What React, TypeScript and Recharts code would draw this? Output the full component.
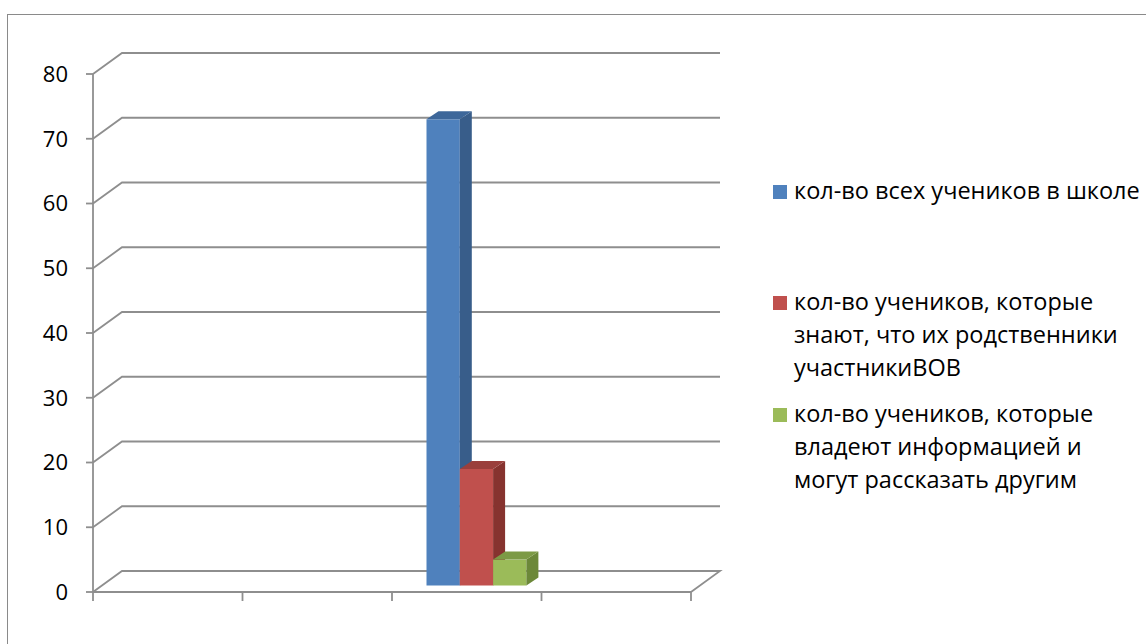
import React from "react";
import { BarChart, Bar, XAxis, YAxis, CartesianGrid } from "recharts";

const categories = ["1", "2", "3", "4"];
const seriesNames = [
  "кол-во всех учеников в школе",
  "кол-во учеников, которые знают, что их родственники участникиВОВ",
  "кол-во учеников, которые владеют информацией и могут рассказать другим",
];
const legendLines = [
  ["кол-во всех учеников в школе"],
  ["кол-во учеников, которые", "знают, что их родственники", "участникиВОВ"],
  ["кол-во учеников, которые", "владеют информацией и", "могут рассказать другим"],
];
const allStudents = [null, null, 72, null];
const relativesKnown = [null, null, 18, null];
const canTell = [null, null, 4, null];
const yTicks = [0, 10, 20, 30, 40, 50, 60, 70, 80];

const colors = [
  { front: "#4F81BD", side: "#385D8A", top: "#3D679A" },
  { front: "#C0504D", side: "#86332F", top: "#9A3F3C" },
  { front: "#9BBB59", side: "#6C8839", top: "#7C9A45" },
];

const data = categories.map((c, i) => ({
  name: c,
  s0: allStudents[i],
  s1: relativesKnown[i],
  s2: canTell[i],
}));

const FONT = "'Open Sans', sans-serif";
const FONT_SIZE = 22;
const LEGEND_FONT_SIZE = 23.5;
const GRID = "#8E8E8E";
const DX = 29;
const DY = 21;
const BDX = 12;
const BDY = 8;

const makeShape = (ci: number) => (props: any) => {
  const { x, y, width, height } = props;
  if (x == null || !height || height <= 0) return <g />;
  const c = colors[ci];
  const fx = x + 9.5;
  const fy = y - 6.5;
  const w = width;
  const h = height;
  return (
    <g>
      <rect x={fx} y={fy} width={w} height={h} fill={c.front} />
      <polygon
        points={`${fx + w},${fy} ${fx + w + BDX},${fy - BDY} ${fx + w + BDX},${fy + h - BDY} ${fx + w},${fy + h}`}
        fill={c.side}
      />
      <polygon
        points={`${fx},${fy} ${fx + BDX},${fy - BDY} ${fx + w + BDX},${fy - BDY} ${fx + w},${fy}`}
        fill={c.top}
      />
    </g>
  );
};

const gridLine = (props: any) => {
  const { x1, y1, x2, y, height, index } = props;
  const isFloor = y != null && height != null && Math.abs(y1 - (y + height)) < 1;
  let d = `M${x1},${y1} L${x1 + DX},${y1 - DY} L${x2 + DX},${y1 - DY}`;
  if (isFloor) d += ` L${x2},${y1}`;
  return <path key={`g-${index}-${y1}`} d={d} stroke={GRID} strokeWidth={1.8} fill="none" />;
};

const XTick = (props: any) => {
  const { x, y, payload } = props;
  const off = payload && payload.offset != null ? payload.offset : 74.75;
  const last = payload && payload.index === categories.length - 1;
  return (
    <g>
      <line x1={x - off} y1={y} x2={x - off} y2={y + 9} stroke={GRID} strokeWidth={1.8} />
      {last && <line x1={x + off} y1={y} x2={x + off} y2={y + 9} stroke={GRID} strokeWidth={1.8} />}
    </g>
  );
};

const legendTops = [174, 285, 397];

export default function App() {
  return (
    <div
      style={{
        position: "absolute",
        left: 0,
        top: 0,
        width: 1146,
        height: 644,
        overflow: "hidden",
        background: "#fff",
      }}
    >
      <div
        style={{
          position: "absolute",
          left: 7,
          top: 14,
          width: 1300,
          height: 800,
          border: "1.5px solid #8A8A8A",
        }}
      />
      <div style={{ position: "absolute", left: 0, top: 0 }}>
        <BarChart
          width={1146}
          height={644}
          data={data}
          margin={{ top: 74, right: 455, bottom: 22, left: 0 }}
          barGap={0}
          barSize={33.3}
        >
          <CartesianGrid vertical={false} horizontal={gridLine} />
          <XAxis
            dataKey="name"
            height={30}
            axisLine={{ stroke: GRID, strokeWidth: 1.8 }}
            tickLine={false}
            tickSize={0}
            tickMargin={0}
            tick={<XTick />}
            interval={0}
          />
          <YAxis
            width={93}
            domain={[0, 80]}
            ticks={yTicks}
            interval={0}
            axisLine={{ stroke: GRID, strokeWidth: 1.8 }}
            tickLine={{ stroke: GRID, strokeWidth: 1.8 }}
            tickSize={7}
            tickMargin={18}
            tick={{ fill: "#000", fontSize: FONT_SIZE, fontFamily: FONT }}
          />
          {["s0", "s1", "s2"].map((k, i) => (
            <Bar
              key={k}
              dataKey={k}
              name={seriesNames[i]}
              isAnimationActive={false}
              shape={makeShape(i)}
            />
          ))}
        </BarChart>
      </div>
      {legendLines.map((lines, i) => (
        <div
          key={i}
          style={{
            position: "absolute",
            left: 773,
            top: legendTops[i],
            fontFamily: FONT,
            fontSize: LEGEND_FONT_SIZE,
            lineHeight: "33px",
            color: "#000",
          }}
        >
          <div
            style={{
              position: "absolute",
              left: 0,
              top: 11,
              width: 14,
              height: 14,
              background: colors[i].front,
            }}
          />
          <div style={{ marginLeft: 21, whiteSpace: "nowrap" }}>
            {lines.map((l, j) => (
              <div key={j}>{l}</div>
            ))}
          </div>
        </div>
      ))}
    </div>
  );
}
